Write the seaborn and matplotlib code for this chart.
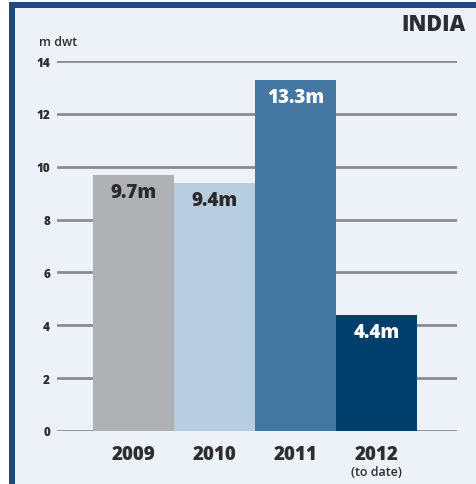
import matplotlib
matplotlib.use("Agg")
import matplotlib.pyplot as plt
from matplotlib.patches import Rectangle
import seaborn as sns
import pandas as pd

years = ["2009", "2010", "2011", "2012"]
tonnage = [9.7, 9.4, 13.3, 4.4]
value_labels = ["9.7m", "9.4m", "13.3m", "4.4m"]
bar_colors = ["#b0b1b5", "#b8cde0", "#4478a3", "#003f6b"]
label_colors = ["#2b2b2b", "#2b2b2b", "#ffffff", "#ffffff"]
y_ticks = [0, 2, 4, 6, 8, 10, 12, 14]

sns.set_style("white")
plt.rcParams["font.family"] = ["Open Sans", "DejaVu Sans"]

W, H = 476, 485
fig = plt.figure(figsize=(W / 100, H / 100), dpi=100)
fig.patch.set_facecolor("white")

# panel background and the dark frame on the top and left edges
fig.patches.append(Rectangle((9 / W, 0), 1 - 9 / W, 1 - 3 / H, transform=fig.transFigure,
                             facecolor="#edf2f8", edgecolor="none", zorder=-3))
fig.patches.append(Rectangle((9 / W, 0), 6 / W, 1 - 3 / H, transform=fig.transFigure,
                             facecolor="#1f4a7c", edgecolor="none", zorder=-2))
fig.patches.append(Rectangle((9 / W, 1 - 9 / H), 1 - 9 / W, 6 / H, transform=fig.transFigure,
                             facecolor="#1f4a7c", edgecolor="none", zorder=-2))

ax = fig.add_axes([57 / W, 1 - 432 / H, 400 / W, 370 / H])
ax.set_zorder(2)
ax.set_facecolor("none")

df = pd.DataFrame({"year": years, "dwt": tonnage})
sns.barplot(data=df, x="year", y="dwt", hue="year", palette=bar_colors,
            width=1.0, dodge=False, legend=False, saturation=1,
            linewidth=0, ax=ax, zorder=2)

ax.set_ylim(0, 14)
ax.set_xlim(-0.94, 3.99)
ax.set_yticks(y_ticks)
ax.set_yticklabels([str(t) for t in y_ticks], fontsize=8.5, fontweight="heavy", color="#2e2e2e")
ax.yaxis.grid(True, color="#8a8d91", linewidth=2)
ax.set_axisbelow(True)
for s in ax.spines.values():
    s.set_visible(False)
ax.tick_params(axis="both", length=0)
ax.tick_params(axis="y", pad=5)
ax.tick_params(axis="x", pad=9)
ax.set_xticks(range(len(years)))
ax.set_xticklabels(years, fontsize=13.5, fontweight="heavy", color="#2e2e2e")
ax.set_xlabel("")
ax.set_ylabel("")

for i, (v, lab, c) in enumerate(zip(tonnage, value_labels, label_colors)):
    ax.annotate(lab, xy=(i, v), xytext=(0, -12.5), textcoords="offset points",
                ha="center", va="center", fontsize=13.5, fontweight="heavy", color=c)

ax.annotate("(to date)", xy=(3, 0), xytext=(0, -29), textcoords="offset points",
            ha="center", va="center", fontsize=9, fontweight="semibold", color="#2e2e2e")

fig.text(39 / W, 1 - 43 / H, "m dwt", fontsize=9, fontweight="semibold",
         color="#2e2e2e", ha="left", va="center")
fig.text(466 / W, 1 - 25 / H, "INDIA", fontsize=15.5, fontweight="heavy",
         color="#2a2d33", ha="right", va="center")

fig.savefig("out.png", dpi=100, facecolor=fig.get_facecolor())
